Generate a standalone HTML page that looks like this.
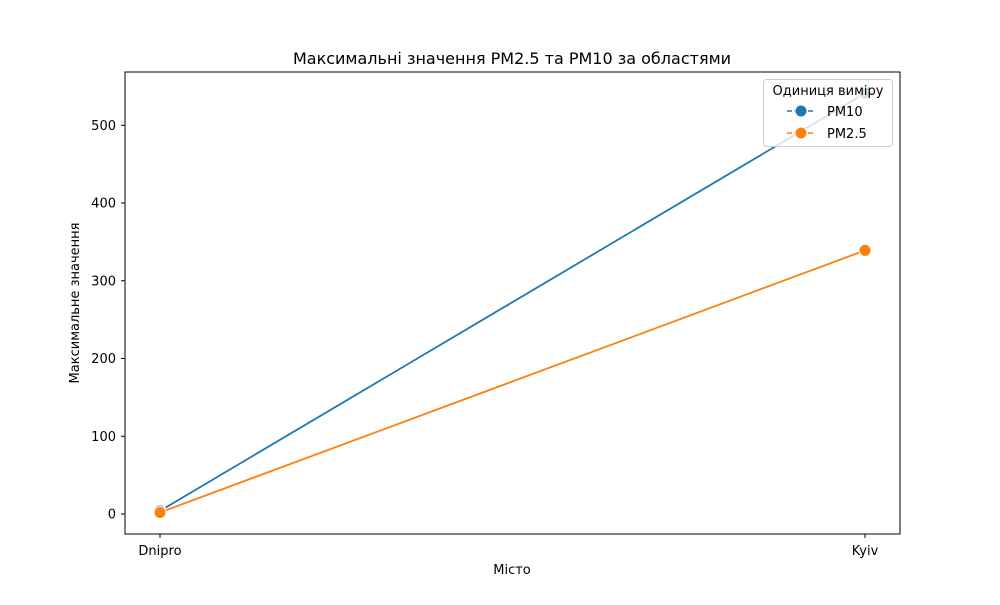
<!DOCTYPE html>
<html><head><meta charset="utf-8"><style>
body{margin:0;background:#fff;font-family:"Liberation Sans","DejaVu Sans",sans-serif;}
</style></head><body>
<svg id="c" width="1000" height="600" xmlns="http://www.w3.org/2000/svg" font-family="DejaVu Sans, Liberation Sans, sans-serif">
<rect width="1000" height="600" fill="#fff"/>
<text x="512" y="64" text-anchor="middle" font-size="16">Максимальні значення PM2.5 та PM10 за областями</text>
<g id="axes"></g>
<g id="marks"></g>
<rect x="125" y="72" width="775" height="462" fill="none" stroke="#000" stroke-width="1"/>
<text x="512" y="574" text-anchor="middle" font-size="13">Місто</text>
<text transform="translate(79,303) rotate(-90)" text-anchor="middle" font-size="13">Максимальне значення</text>
<g>
<rect x="763.5" y="79.5" width="129" height="67" rx="3" fill="#fff" fill-opacity="0.8" stroke="#ccc"/>
<text x="828" y="95" text-anchor="middle" font-size="13">Одиниця виміру</text>
<g>
<line x1="787" y1="111" x2="815" y2="111" stroke="#1f77b4" stroke-width="1.5" stroke-dasharray="5,2"/>
<circle cx="801" cy="111" r="6" fill="#1f77b4" stroke="#fff" stroke-width="1"/>
<text x="827" y="116" font-size="13">PM10</text></g>
<g>
<line x1="787" y1="133" x2="815" y2="133" stroke="#ff7f0e" stroke-width="1.5" stroke-dasharray="5,2"/>
<circle cx="801" cy="133" r="6" fill="#ff7f0e" stroke="#fff" stroke-width="1"/>
<text x="827" y="138" font-size="13">PM2.5</text></g>
</g>
</svg>
<script>
const categories=["Dnipro","Kyiv"];
const pm10=[4,541];
const pm25=[2,339];
const yTicks=[0,100,200,300,400,500];
const NS="http://www.w3.org/2000/svg";
function xS(i){return 160+i*(865-160)/(categories.length-1);}
function yS(v){return 514-v*0.7775;}
function mk(t,a,p){const e=document.createElementNS(NS,t);for(const k in a)e.setAttribute(k,a[k]);p.appendChild(e);return e;}
const ax=document.getElementById('axes'),mg=document.getElementById('marks');
yTicks.forEach(v=>{
  const t=mk('line',{x1:121,x2:125,y1:yS(v),y2:yS(v),stroke:'#000'},ax);
  
  
  const l=mk('text',{x:116,y:yS(v)+4.5,'text-anchor':'end','font-size':13},ax);
  l.textContent=v;
  
  
});
categories.forEach((c,i)=>{
  const t=mk('line',{x1:xS(i),x2:xS(i),y1:534,y2:538,stroke:'#000'},ax);
  
  
  const l=mk('text',{x:xS(i),y:555,'text-anchor':'middle','font-size':13},ax);
  l.textContent=c;
  
  
});
[[pm10,'#1f77b4','pm10'],[pm25,'#ff7f0e','pm25']].forEach(([d,col,n])=>{
  const pts=d.map((v,i)=>xS(i)+','+yS(v)).join(' ');
  const pl=mk('polyline',{points:pts,fill:'none',stroke:col,'stroke-width':1.8},mg);
  
  
  d.forEach((v,i)=>{
    const c=mk('circle',{cx:xS(i),cy:yS(v),r:6,fill:col,stroke:'#fff','stroke-width':1},mg);
    
    
  });
});
</script>
</body></html>
